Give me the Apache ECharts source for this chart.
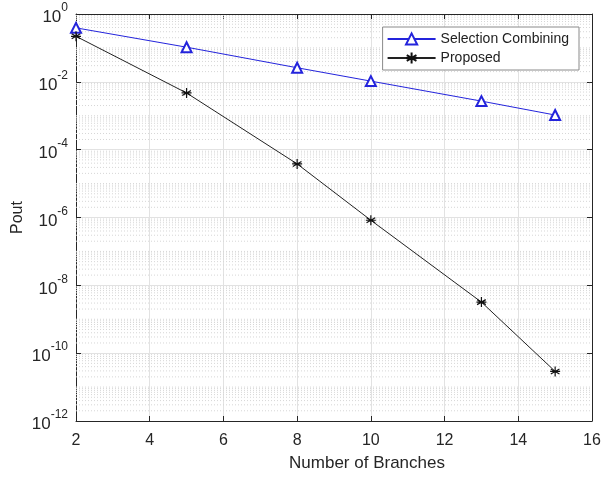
<!DOCTYPE html>
<html>
<head>
<meta charset="utf-8">
<script src="https://cdn.jsdelivr.net/npm/echarts@6/dist/echarts.min.js"></script>
<style>
  html, body { margin: 0; padding: 0; background: #fff; }
  #chart { width: 602px; height: 478px; }
</style>
</head>
<body>
<div id="chart"></div>
<script>
// 分支数与中断概率
var branches = [2, 5, 8, 10, 13, 15];
var selectionCombining = [0.39, 0.105, 0.026, 0.0105, 0.0027, 0.00105];
var proposed = [0.22, 0.0047, 3.8e-5, 8.3e-7, 3.2e-9, 2.9e-11];
var seriesNames = ['Selection Combining', 'Proposed'];

var Chart = echarts.init(document.getElementById('chart'));

function pairs(xs, ys) {
    return xs.map(function (x, i) { return [x, ys[i]]; });
}

// minor grid at k*10^n (MATLAB style)
var minorLines = [];
for (var n = -12; n < 0; n++) {
    for (var k = 1; k <= 9; k++) {
        if (k === 1 && n % 2 === 0) continue;
        minorLines.push([2, k * Math.pow(10, n)]);
    }
}

var asterisk = 'path://M0,-5L0,5M-4.33,-2.5L4.33,2.5M-4.33,2.5L4.33,-2.5M-5,0L5,0';

var axisColor = '#262626';
var fontFam = 'Liberation Sans, Arial, sans-serif';

option = {
    backgroundColor: '#fff',
    animation: false,
    grid: {
        left: 76,
        right: 10,
        top: 14,
        bottom: 57,
        containLabel: false,
        outerBoundsMode: 'none'
    },
    legend: {
        orient: 'vertical',
        right: 23,
        top: 27,
        itemWidth: 48,
        itemHeight: 14,
        itemGap: 5,
        padding: [5, 10, 5, 4],
        backgroundColor: '#fff',
        borderColor: '#8a8a8a',
        borderWidth: 1,
        borderRadius: 0,
        textStyle: { fontSize: 14, color: '#222', fontFamily: fontFam },
        data: seriesNames
    },
    xAxis: [{
        type: 'value',
        min: 2,
        max: 16,
        interval: 2,
        name: 'Number of Branches',
        nameLocation: 'middle',
        nameGap: 34,
        nameMoveOverlap: false,
        nameTextStyle: { fontSize: 17, color: axisColor, fontFamily: fontFam, padding: [0, 0, 0, 66] },
        axisLine: { lineStyle: { color: axisColor } },
        axisTick: { inside: true, length: 5, lineStyle: { color: axisColor } },
        axisLabel: { fontSize: 16, color: axisColor, margin: 12, fontFamily: fontFam },
        splitLine: { show: true, lineStyle: { color: '#e2e2e2' } }
    }, {
        type: 'value',
        position: 'top',
        min: 2,
        max: 16,
        interval: 2,
        axisLine: { show: true, lineStyle: { color: axisColor } },
        axisTick: { show: true, inside: true, length: 5, lineStyle: { color: axisColor } },
        axisLabel: { show: false },
        splitLine: { show: false }
    }],
    yAxis: [{
        type: 'log',
        logBase: 10,
        min: 1e-12,
        max: 1,
        interval: 2,
        name: 'Pout',
        nameLocation: 'middle',
        nameGap: 50,
        nameMoveOverlap: false,
        nameTextStyle: { fontSize: 16, color: axisColor, fontFamily: fontFam },
        axisLine: { show: true, lineStyle: { color: axisColor } },
        axisTick: { show: true, inside: true, length: 5, lineStyle: { color: axisColor } },
        axisLabel: {
            color: axisColor,
            margin: 8,
            formatter: function (v) {
                var e = Math.round(Math.log10(v));
                return '{b|10}{s|' + e + '}';
            },
            rich: {
                b: { fontSize: 17, color: axisColor, fontFamily: fontFam, padding: [7, 0, 0, 0] },
                s: { fontSize: 12, color: axisColor, fontFamily: fontFam, verticalAlign: 'top', padding: [0, 0, 8, 0] }
            }
        },
        splitLine: { show: true, lineStyle: { color: '#e2e2e2' } }
    }, {
        type: 'log',
        logBase: 10,
        position: 'right',
        min: 1e-12,
        max: 1,
        interval: 2,
        axisLine: { show: true, lineStyle: { color: axisColor } },
        axisTick: { show: true, inside: true, length: 5, lineStyle: { color: axisColor } },
        axisLabel: { show: false },
        splitLine: { show: false }
    }],
    series: [
        {
            name: 'minor',
            type: 'custom',
            z: 1,
            silent: true,
            data: minorLines,
            renderItem: function (params, api) {
                var v = api.value(1);
                var p1 = api.coord([2, v]);
                var p2 = api.coord([16, v]);
                return {
                    type: 'line',
                    shape: { x1: p1[0], y1: p1[1], x2: p2[0], y2: p2[1] },
                    style: { stroke: '#d6d6d6', lineWidth: 1, lineDash: [1, 2] }
                };
            }
        },
        {
            name: seriesNames[0],
            type: 'line',
            z: 3,
            data: pairs(branches, selectionCombining),
            symbol: 'emptyTriangle',
            symbolSize: 10,
            lineStyle: { color: '#2424dc', width: 1 },
            itemStyle: { color: '#2424dc', borderColor: '#2424dc', borderWidth: 1 }
        },
        {
            name: seriesNames[1],
            type: 'line',
            z: 3,
            data: pairs(branches, proposed),
            symbol: asterisk,
            symbolSize: 10,
            lineStyle: { color: '#222', width: 1, type: 'solid' },
            itemStyle: { color: 'rgba(0,0,0,0)', borderColor: '#111', borderWidth: 1.2 }
        }
    ]
};

Chart.setOption(option);
</script>
</body>
</html>
